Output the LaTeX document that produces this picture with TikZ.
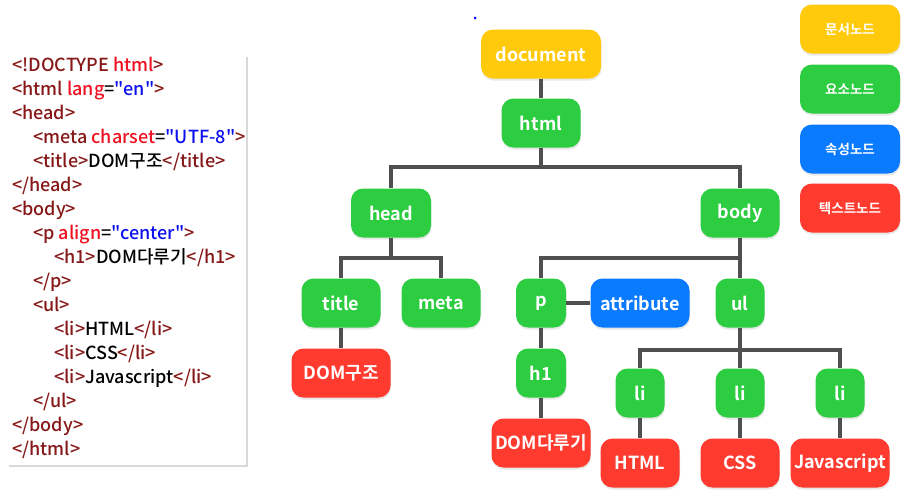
\documentclass[tikz,border=0pt]{standalone}
\usepackage{fontspec}
\setmainfont{Noto Sans CJK KR}[BoldFont={Noto Sans CJK KR Bold}, Ligatures=TeXOff]
\newfontfamily\codefont{Noto Sans CJK KR Medium}[Ligatures=TeXOff]
\usetikzlibrary{shadows}

\definecolor{docyellow}{HTML}{FFCA0C}
\definecolor{elemgreen}{HTML}{2DCD41}
\definecolor{attrblue}{HTML}{0A7AFF}
\definecolor{textred}{HTML}{FF3B30}
\definecolor{linegray}{HTML}{4F4F52}
\definecolor{tagred}{HTML}{861818}
\definecolor{attred}{HTML}{F01020}
\definecolor{valblue}{HTML}{0A10F0}

\newcommand{\htag}[1]{\textcolor{tagred}{#1}}
\newcommand{\hatt}[1]{\textcolor{attred}{#1}}
\newcommand{\hval}[1]{\textcolor{valblue}{"#1"}}

\begin{document}
\begin{tikzpicture}[x=1pt, y=-1pt]
	\tikzset{domnode/.style={rounded corners=12pt, text=white, inner sep=0pt,
				minimum height=49pt, font=\fontsize{18}{20}\selectfont\bfseries,
				drop shadow={opacity=0.18, shadow xshift=0.5pt, shadow yshift=-2pt}}}
	\tikzset{docnode/.style={domnode, fill=docyellow}}
	\tikzset{elemnode/.style={domnode, fill=elemgreen}}
	\tikzset{attrnode/.style={domnode, fill=attrblue}}
	\tikzset{textnode/.style={domnode, fill=textred}}
	\tikzset{keynode/.style={font=\fontsize{13.5}{15}\selectfont\bfseries, minimum width=100pt}}
	\tikzset{domline/.style={line width=4pt, draw=linegray}}
	\tikzset{codeline/.style={anchor=base west, inner sep=0pt, font=\fontsize{18}{20}\codefont}}

	\useasboundingbox (0,0) rectangle (902,496);

	% source panel
	\fill[white, drop shadow={opacity=0.3, shadow xshift=2pt, shadow yshift=-2pt}]
		(7,55) rectangle (246,465);
	\node[codeline] (c1) at (12,71) {\htag{<!DOCTYPE} \hatt{html}\htag{>}};
	\node[codeline] (c2) at (12,95) {\htag{<html} \hatt{lang}=\hval{en}\htag{>}};
	\node[codeline] (c3) at (12,119) {\htag{<head>}};
	\node[codeline] (c4) at (33,143) {\htag{<meta} \hatt{charset}=\hval{UTF-8}\htag{>}};
	\node[codeline] (c5) at (33,167) {\htag{<title>}DOM구조\htag{</title>}};
	\node[codeline] (c6) at (12,191) {\htag{</head>}};
	\node[codeline] (c7) at (12,215) {\htag{<body>}};
	\node[codeline] (c8) at (33,239) {\htag{<p} \hatt{align}=\hval{center}\htag{>}};
	\node[codeline] (c9) at (54,263) {\htag{<h1>}DOM다루기\htag{</h1>}};
	\node[codeline] (c10) at (33,287) {\htag{</p>}};
	\node[codeline] (c11) at (33,311) {\htag{<ul>}};
	\node[codeline] (c12) at (54,335) {\htag{<li>}HTML\htag{</li>}};
	\node[codeline] (c13) at (54,359) {\htag{<li>}CSS\htag{</li>}};
	\node[codeline] (c14) at (54,383) {\htag{<li>}Javascript\htag{</li>}};
	\node[codeline] (c15) at (33,407) {\htag{</ul>}};
	\node[codeline] (c16) at (12,431) {\htag{</body>}};
	\node[codeline] (c17) at (12,455) {\htag{</html>}};

	% tree
	\node[circle, fill=blue, inner sep=0pt, minimum size=3pt] (dot) at (475,18) {};
	\node[docnode, minimum width=120pt] (document) at (541,54) {document};
	\node[elemnode, minimum width=79pt] (html) at (541,123) {html};
	\node[elemnode, minimum width=80pt] (head) at (391,213) {head};
	\node[elemnode, minimum width=79pt] (body) at (740,213) {body};
	\node[elemnode, minimum width=79pt] (title) at (341,303) {title};
	\node[elemnode, minimum width=79pt] (meta) at (441,303) {meta};
	\node[elemnode, minimum width=50pt] (p) at (541,303) {p};
	\node[attrnode, minimum width=99pt] (align) at (640,303) {attribute};
	\node[elemnode, minimum width=49pt] (ul) at (740,303) {ul};
	\node[textnode, minimum width=99pt] (t1) at (341,373) {DOM구조};
	\node[elemnode, minimum width=50pt] (h1) at (541,373) {h1};
	\node[elemnode, minimum width=49pt] (li1) at (640,393) {li};
	\node[elemnode, minimum width=49pt] (li2) at (740,393) {li};
	\node[elemnode, minimum width=49pt] (li3) at (840,393) {li};
	\node[textnode, minimum width=99pt] (t2) at (541,443) {DOM다루기};
	\node[textnode, minimum width=79pt] (t3) at (640,463) {HTML};
	\node[textnode, minimum width=79pt] (t4) at (740,463) {CSS};
	\node[textnode, minimum width=99pt] (t5) at (840,463) {Javascript};

	\coordinate (bar1) at (0,167);
	\coordinate (bar2) at (0,258);
	\coordinate (bar3) at (0,350);

	\draw[domline] (document) -- (html);
	\draw[domline] (html) -- (html |- bar1);
	\draw[domline] (head) |- (body |- bar1) -- (body);
	\draw[domline] (head) -- (head |- bar2);
	\draw[domline] (title) |- (meta |- bar2) -- (meta);
	\draw[domline] (p) |- (ul |- bar2);
	\draw[domline] (body) -- (ul);
	\draw[domline] (p) -- (align);
	\draw[domline] (title) -- (t1);
	\draw[domline] (p) -- (h1);
	\draw[domline] (h1) -- (t2);
	\draw[domline] (li1) |- (li3 |- bar3) -- (li3);
	\draw[domline] (ul) -- (li2);
	\draw[domline] (li1) -- (t3);
	\draw[domline] (li2) -- (t4);
	\draw[domline] (li3) -- (t5);

	% legend
	\node[docnode, keynode] (k1) at (850,29) {문서노드};
	\node[elemnode, keynode] (k2) at (850,89) {요소노드};
	\node[attrnode, keynode] (k3) at (850,149) {속성노드};
	\node[textnode, keynode] (k4) at (850,208) {텍스트노드};
\end{tikzpicture}
\end{document}
